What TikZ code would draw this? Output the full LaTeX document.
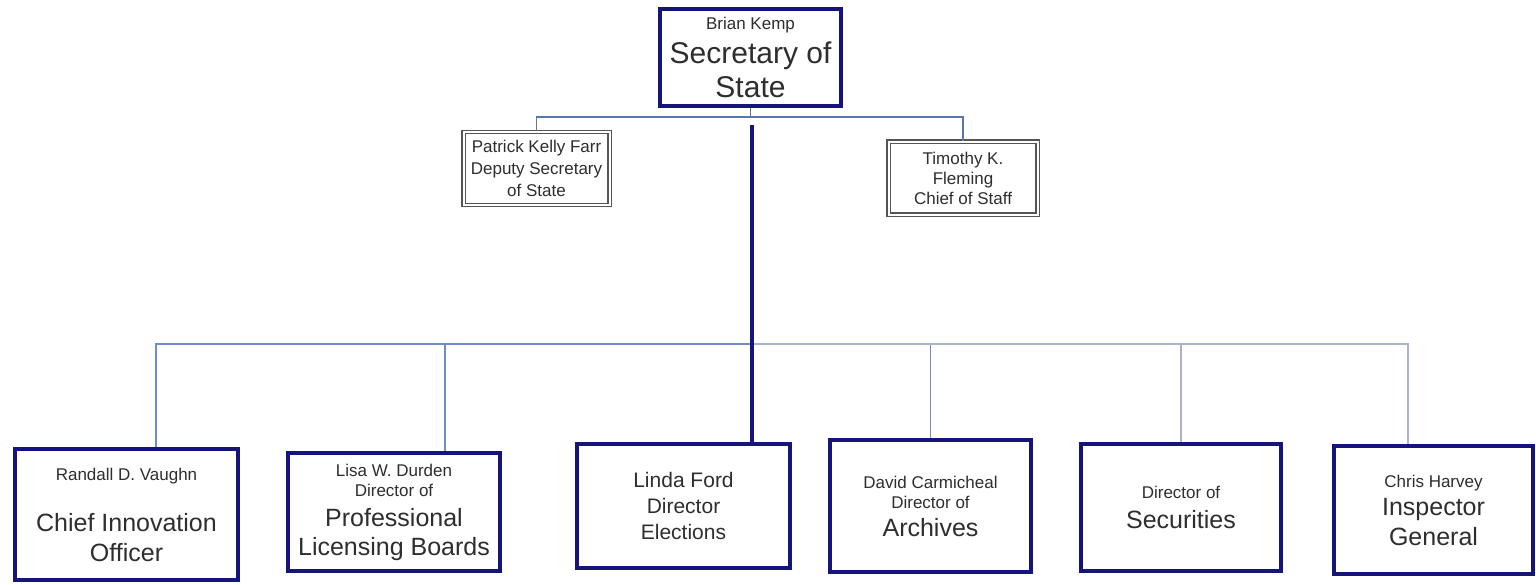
\documentclass[tikz,border=0pt]{standalone}
\usepackage{fontspec}
\setmainfont{Liberation Sans}
\usepackage{tikz}

\definecolor{boxnavy}{HTML}{14147A}
\definecolor{framegray}{HTML}{555555}
\definecolor{textgray}{HTML}{2E2E2E}
\definecolor{linkblue}{HTML}{5877AE}
\definecolor{busblue}{HTML}{6F8EC6}
\definecolor{busgray}{HTML}{A9B4C8}

\newcommand{\namesize}{\fontsize{17}{20}\selectfont}

\begin{document}
\begin{tikzpicture}[
  x=1pt, y=-1pt,
  top_box/.style={rectangle, draw=boxnavy, line width=4pt, fill=white, inner sep=0pt, minimum width=181pt, minimum height=97pt, align=center, text=textgray, font=\fontsize{30}{34}\selectfont},
  staff_box/.style={rectangle, draw=framegray, line width=1.4pt, double=white, double distance=2pt, fill=white, inner sep=0pt, minimum height=73pt, align=center, text=textgray, font=\fontsize{17}{22}\selectfont},
  dept_box/.style={rectangle, draw=boxnavy, line width=4pt, fill=white, inner sep=0pt, align=center, text=textgray, font=\fontsize{25}{30}\selectfont},
  thin_link/.style={draw=linkblue, line width=1.5pt},
  bus_link/.style={draw=busblue, line width=1.5pt},
  pale_link/.style={draw=busgray, line width=1.5pt},
  spine_link/.style={draw=boxnavy, line width=4pt},
]
\useasboundingbox (0,0) rectangle (1536,584);

% head of office
\draw (750.5,57.5) node (sec) [top_box] {{\namesize Brian Kemp}\\Secretary of\\State};

% second row
\draw (536.5,168.5) node (deputy) [staff_box, minimum width=146pt] {Patrick Kelly Farr\\Deputy Secretary\\of State};
\draw (963,178) node (staff) [staff_box, minimum width=149pt, font=\fontsize{17}{20}\selectfont] {Timothy K.\\Fleming\\Chief of Staff};

% divisions
\draw (126.5,514.5) node (cio) [dept_box, minimum width=223pt, minimum height=131pt] {{\namesize Randall D. Vaughn}\\[21pt]Chief Innovation\\Officer};
\draw (394,512) node (plb) [dept_box, minimum width=212pt, minimum height=118pt, font=\fontsize{25}{29}\selectfont] {{\namesize Lisa W. Durden}\\[-9pt]{\namesize Director of}\\[1pt]Professional\\Licensing Boards};
\draw (683.5,506) node (elec) [dept_box, minimum width=213pt, minimum height=124pt, font=\fontsize{21}{26}\selectfont] {Linda Ford\\Director\\Elections};
\draw (930.5,506) node (arch) [dept_box, minimum width=201pt, minimum height=132pt, font=\fontsize{25}{28}\selectfont] {{\namesize David Carmicheal}\\[-8pt]{\namesize Director of}\\Archives};
\draw (1181,507.5) node (secu) [dept_box, minimum width=200pt, minimum height=127pt] {{\namesize Director of}\\Securities};
\draw (1433.5,510) node (ig) [dept_box, minimum width=199pt, minimum height=128pt] {{\namesize Chris Harvey}\\[-2pt]Inspector\\General};

% links to the second row
\coordinate (top_fork) at (750.5,117);
\draw[thin_link] (sec.south) -- (top_fork);
\draw[thin_link] (top_fork) -| (deputy.north);
\draw[thin_link] (top_fork) -| (staff.north);

% links to the divisions
\coordinate (spine_top) at (752,125);
\coordinate (bus_fork) at (752,344);
\draw[bus_link] (bus_fork) -| ([xshift=29.5pt]cio.north);
\draw[bus_link] (bus_fork) -| ([xshift=51pt]plb.north);
\draw[bus_link] (bus_fork) -| (arch.north);
\draw[pale_link] (bus_fork) -| (secu.north);
\draw[pale_link] (bus_fork) -| ([xshift=-25.5pt]ig.north);
\draw[spine_link] (spine_top) -- (spine_top |- elec.north);
\end{tikzpicture}
\end{document}
